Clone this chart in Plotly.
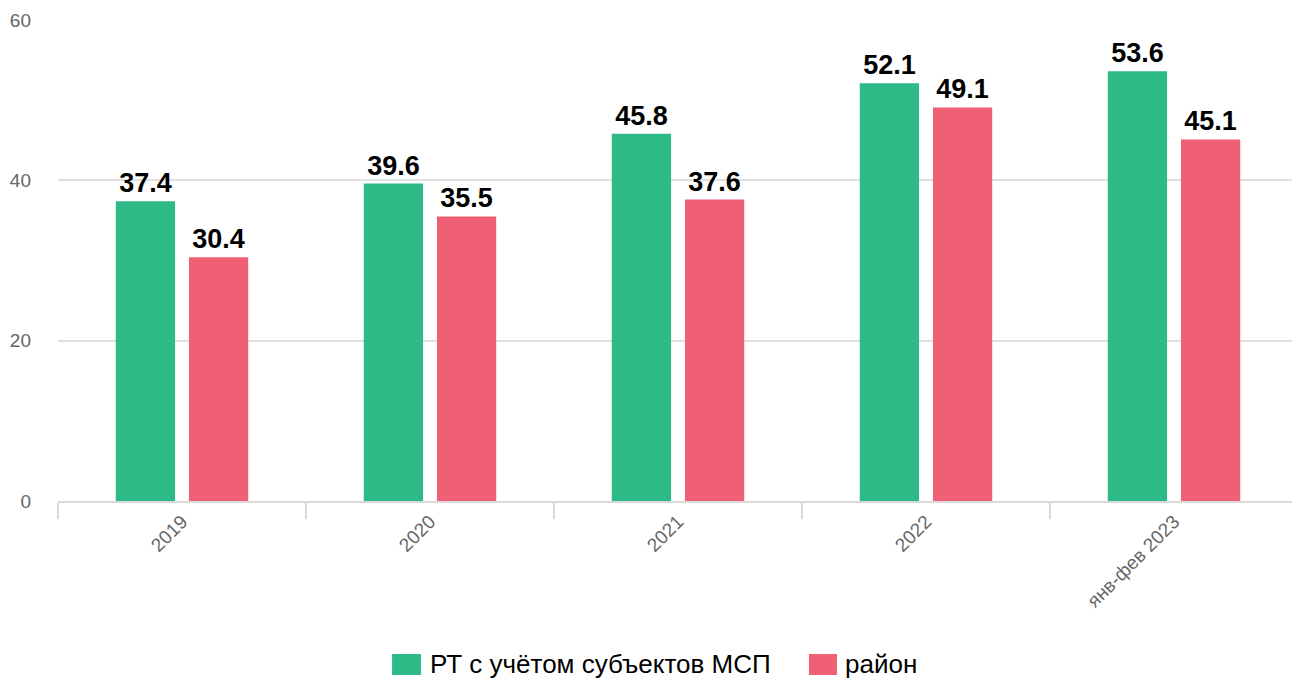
import plotly.graph_objects as go

categories = ["2019", "2020", "2021", "2022", "янв-фев 2023"]
rt_values = [37.4, 39.6, 45.8, 52.1, 53.6]
rayon_values = [30.4, 35.5, 37.6, 49.1, 45.1]
series_names = ["РТ с учётом субъектов МСП", "район"]
colors = ["#2dba87", "#f06075"]

FONT = "Liberation Sans, Arial, sans-serif"

fig = go.Figure()
for name, vals, col in zip(series_names, [rt_values, rayon_values], colors):
    fig.add_trace(go.Bar(
        x=categories, y=vals, name=name,
        marker=dict(color=col, line=dict(width=0)),
        text=[f"{v:.1f}" for v in vals],
        textposition="outside",
        textfont=dict(family=FONT, size=27, color="#000000"),
        texttemplate="<b>%{text}</b>",
        cliponaxis=False,
        showlegend=False,
    ))

# Legend drawn as swatches + labels below the plot (paper coordinates)
legend_items = [
    (series_names[0], colors[0], 0.2694, 0.2927, 0.2984),
    (series_names[1], colors[1], 0.6056, 0.6282, 0.6331),
]
for name, col, sx0, sx1, tx in legend_items:
    fig.add_shape(type="rect", xref="paper", yref="paper", x0=sx0, x1=sx1,
                  y0=-0.3617, y1=-0.3181, fillcolor=col, line=dict(width=0))
    fig.add_annotation(xref="paper", yref="paper", x=tx, y=-0.3399, text=name,
                       showarrow=False, xanchor="left", yanchor="middle",
                       font=dict(family=FONT, size=26, color="#000000"))

# page body has an 8px default margin, so the figure is sized to fit the window
fig.update_layout(
    width=1292, height=672,
    margin=dict(l=50, r=2, t=12, b=179, autoexpand=False),
    paper_bgcolor="white", plot_bgcolor="white",
    barmode="group", bargap=0.41, bargroupgap=0.19,
    font=dict(family=FONT, size=18, color="#666666"),
    showlegend=False,
)
fig.update_xaxes(
    type="category", tickangle=-45, tickson="boundaries", ticks="outside", ticklen=16,
    tickcolor="#d9d9d9", tickwidth=2, showline=True, linecolor="#d9d9d9", linewidth=2,
    showgrid=False, tickfont=dict(size=19, color="#666666"), automargin=False,
)
fig.update_yaxes(
    range=[0, 60], tickvals=[0, 20, 40, 60], showgrid=True, gridcolor="#e0e0e0", gridwidth=2,
    zeroline=False, showline=False, ticks="", ticklabelstandoff=26,
    tickfont=dict(size=19, color="#666666"), automargin=False,
)
fig.write_html("out.html")
